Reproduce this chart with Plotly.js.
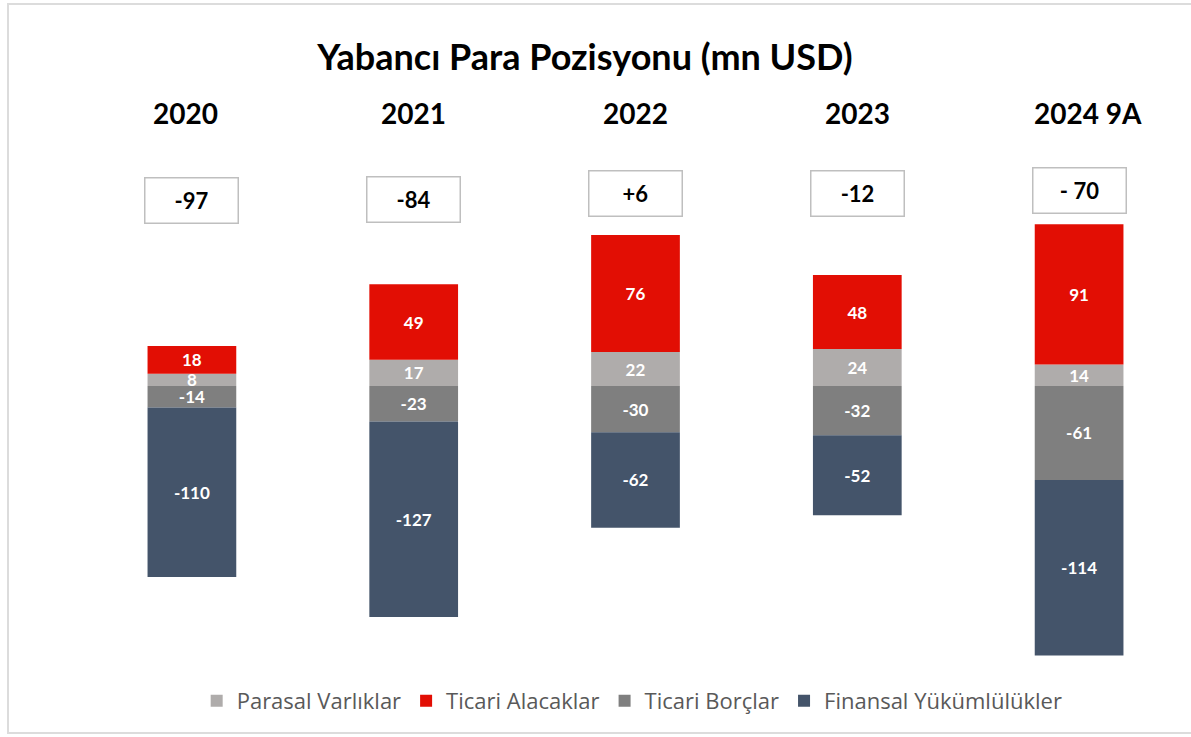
<!DOCTYPE html>
<html>
<head>
<meta charset="utf-8">
<script src="https://cdn.plot.ly/plotly-3.0.1.min.js"></script>
<style>
  html, body { margin: 0; padding: 0; background: #ffffff; overflow: hidden; }
  #chart { position: absolute; left: 0; top: 0; width: 1191px; height: 737px; }
  #frame { position: absolute; left: 7px; top: 3px; width: 1200px; height: 731px;
           border: 2px solid #DCDCDC; box-sizing: border-box; pointer-events: none; }
</style>
</head>
<body>
<div id="chart"></div>
<div id="frame"></div>
<script>
// ---- data ----
const years = ["2020", "2021", "2022", "2023", "2024 9A"];
const parasalVarliklar = [8, 17, 22, 24, 14];
const ticariAlacaklar = [18, 49, 76, 48, 91];
const ticariBorclar = [-14, -23, -30, -32, -61];
const finansalYukumlulukler = [-110, -127, -62, -52, -114];
const netPozisyon = ["-97", "-84", "+6", "-12", "- 70"];
const seriesNames = ["Parasal Varlıklar", "Ticari Alacaklar", "Ticari Borçlar", "Finansal Yükümlülükler"];

// ---- styles / layout helpers ----
const colors = ["#AFACAB", "#E20E04", "#7F7F7F", "#44546A"];
const FONT = "Lato, 'Open Sans', sans-serif";
const LEGEND_FONT = "'Open Sans', Lato, sans-serif";
const boxPy = [200, 199, 194, 194, 190];     // pixel centres of the net boxes
const yearXShift = [-6, 0, 0, 0, 9];
const plotTop = 100, plotBottom = 670;
const pyToPaper = py => (plotBottom - py) / (plotBottom - plotTop);

const seriesValues = [parasalVarliklar, ticariAlacaklar, ticariBorclar, finansalYukumlulukler];
const traces = seriesValues.map((vals, i) => ({
  type: "bar",
  name: seriesNames[i],
  x: years,
  y: vals,
  width: 0.4,
  marker: { color: colors[i], line: { width: 0 } },
  text: vals.map(v => String(v)),
  textposition: "inside",
  insidetextanchor: "middle",
  textangle: 0,
  textfont: { family: FONT, size: 17, color: "#ffffff", weight: 700 },
  hoverinfo: "x+y+name"
}));

const annotations = [];
years.forEach((yr, i) => {
  annotations.push({
    x: i, xref: "x", y: pyToPaper(113), yref: "paper",
    text: "<b>" + yr + "</b>", showarrow: false, xshift: yearXShift[i],
    font: { family: FONT, size: 28, color: "#000000" },
    xanchor: "center", yanchor: "middle"
  });
  annotations.push({
    x: i, xref: "x", y: pyToPaper(boxPy[i]), yref: "paper",
    text: "<b>" + netPozisyon[i] + "</b>", showarrow: false,
    font: { family: FONT, size: 22, color: "#000000" },
    bgcolor: "#ffffff", bordercolor: "#BFBFBF", borderwidth: 1.5,
    width: 92, height: 44, borderpad: 0, align: "center", valign: "middle",
    xanchor: "center", yanchor: "middle"
  });
});

const layout = {
  width: 1191, height: 737,
  paper_bgcolor: "rgba(0,0,0,0)", plot_bgcolor: "rgba(0,0,0,0)",
  margin: { l: 81, r: 1, t: plotTop, b: 737 - plotBottom, pad: 0 },
  barmode: "relative",
  title: {
    text: "<b>Yabancı Para Pozisyonu (mn USD)</b>",
    font: { family: FONT, size: 36, color: "#000000" },
    x: 585 / 1191, xref: "container", xanchor: "center",
    y: 1 - 57 / 737, yref: "container", yanchor: "middle"
  },
  xaxis: { type: "category", range: [-0.5, 4.5], showticklabels: false, showgrid: false,
           zeroline: false, showline: false, ticks: "" },
  yaxis: { range: [-184.4, 185.7], showticklabels: false, showgrid: false,
           zeroline: false, showline: false, ticks: "" },
  showlegend: true,
  legend: {
    orientation: "h", x: 0.497, xanchor: "center", y: pyToPaper(701), yanchor: "middle",
    font: { family: LEGEND_FONT, size: 22, color: "#595959" },
    itemwidth: 30, tracegroupgap: 0, traceorder: "normal"
  },
  uniformtext: { mode: "show", minsize: 17 },
  annotations: annotations
};

Plotly.newPlot("chart", traces, layout, { displayModeBar: false, staticPlot: true });
</script>
</body>
</html>
